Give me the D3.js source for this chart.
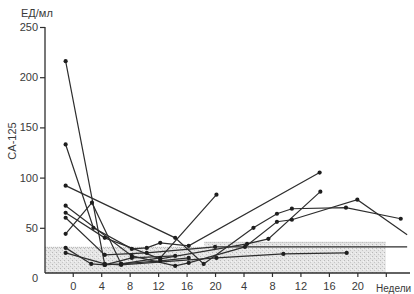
<!DOCTYPE html>
<html>
<head>
<meta charset="utf-8">
<script src="https://cdn.jsdelivr.net/npm/d3@7"></script>
<style>
  body { margin: 0; background: #fff; }
  text { font-family: "Liberation Sans", Arial, sans-serif; fill: #3a3a3a; }
</style>
</head>
<body>
<script>
// weeks: 0..20 first period, then the second period continues at 24 (= week 4) and so on
var xTicks = [0, 4, 8, 12, 16, 20, 24, 28, 32, 36, 40, 44];
var xTickLabels = ["0", "4", "8", "12", "16", "20", "4", "8", "12", "16", "20", ""];
var yTicks = [0, 50, 100, 150, 200, 250];

// normal range band (weeks from, weeks to, upper value)
var bandFrom = [-3.9, 18.5];
var bandTo = [18.5, 44];
var bandTop = [31, 36];

// one array per patient: [week, CA-125]
var patient1 = [[-1, 216], [4.5, 13], [6.8, 14], [12.3, 20], [20.2, 83]];
var patient2 = [[-1, 133], [2.9, 50], [8.3, 29], [10.4, 30], [12.3, 35], [16.3, 32], [34.7, 105]];
var patient3 = [[-1, 92], [14.4, 40], [18.4, 14], [25.4, 50], [28.7, 64], [30.8, 69], [38.4, 70], [46.1, 59]];
var patient4 = [[-1, 72], [8.3, 22], [14.4, 12], [16.3, 15], [24.2, 31], [28.7, 56], [30.8, 58], [40, 78], [47, 43]];
var patient5 = [[-1, 65], [4.5, 40], [12.3, 19], [24.5, 34], [27.5, 39], [34.8, 86]];
var patient6 = [[-1, 60], [4.5, 23], [10.4, 25], [20, 31], [47, 31]];
var patient7 = [[-1, 44], [2.7, 75], [6.8, 14], [12.3, 17], [16.3, 20]];
var patient8 = [[-1, 30], [2.6, 14], [4.5, 13], [8.3, 20], [14.4, 22]];
var patient9 = [[-1, 25], [4.5, 14], [6.8, 13], [20.2, 20], [29.6, 24], [38.5, 25]];

var patients = [patient1, patient2, patient3, patient4, patient5, patient6, patient7, patient8, patient9];

var width = 414;
var height = 294;
var ink = '#2e2e2e';

var svg = d3.select('body')
    .append('svg')
    .attr('width', width)
    .attr('height', height);

var x = d3.scaleLinear().domain([-3.9, 47.4]).range([45, 410]);
var y = d3.scaleLinear().domain([0, 250]).range([278, 27]);
var axisY = y(0) - 5;

// stipple for the band
var defs = svg.append('defs');
var pat = defs.append('pattern')
    .attr('id', 'stipple')
    .attr('width', 4)
    .attr('height', 4)
    .attr('patternUnits', 'userSpaceOnUse');
pat.append('rect').attr('width', 4).attr('height', 4).attr('fill', '#e6e6e6');
pat.append('rect').attr('x', 0).attr('y', 0).attr('width', 1).attr('height', 1).attr('fill', '#b8b8b8');
pat.append('rect').attr('x', 2).attr('y', 2).attr('width', 1).attr('height', 1).attr('fill', '#c6c6c6');
pat.append('rect').attr('x', 3).attr('y', 1).attr('width', 1).attr('height', 1).attr('fill', '#f4f4f4');

svg.selectAll('.band')
    .data(bandTop)
    .enter().append('rect')
    .attr('class', 'band')
    .attr('x', function (d, i) { return x(bandFrom[i]); })
    .attr('width', function (d, i) { return x(bandTo[i]) - x(bandFrom[i]); })
    .attr('y', function (d) { return y(d); })
    .attr('height', function (d) { return axisY - y(d); })
    .attr('fill', 'url(#stipple)');

svg.selectAll('.bandedge')
    .data(bandTop)
    .enter().append('line')
    .attr('x1', function (d, i) { return x(bandFrom[i]); })
    .attr('x2', function (d, i) { return x(bandTo[i]); })
    .attr('y1', function (d) { return y(d) + 0.5; })
    .attr('y2', function (d) { return y(d) + 0.5; })
    .attr('stroke', '#b8b8b8')
    .attr('stroke-width', 1)
    .attr('stroke-dasharray', '1,1');

// y axis
var yAxis = d3.axisLeft(y).tickValues(yTicks).tickSize(5).tickPadding(2);
var gy = svg.append('g')
    .attr('transform', 'translate(' + x(-3.9) + ',0)')
    .call(yAxis);
gy.select('.domain').remove();
gy.selectAll('.tick line').attr('stroke', ink).attr('stroke-width', 1.2);
gy.selectAll('.tick').filter(function (d) { return d === 0; }).select('line').remove();
gy.selectAll('.tick text').attr('font-size', 11).attr('fill', '#3a3a3a');

svg.append('line')
    .attr('x1', x(-3.9)).attr('x2', x(-3.9))
    .attr('y1', y(250)).attr('y2', axisY)
    .attr('stroke', ink)
    .attr('stroke-width', 1.3);

// x axis
var xAxis = d3.axisBottom(x)
    .tickValues(xTicks)
    .tickSize(4)
    .tickPadding(5)
    .tickFormat(function (d, i) { return xTickLabels[i]; });
var gx = svg.append('g')
    .attr('transform', 'translate(0,' + axisY + ')')
    .call(xAxis);
gx.select('.domain').remove();
gx.selectAll('.tick line').attr('stroke', ink).attr('stroke-width', 1.2);
gx.selectAll('.tick text').attr('font-size', 11).attr('fill', '#3a3a3a');

svg.append('line')
    .attr('x1', x(-3.9)).attr('x2', x(47.4))
    .attr('y1', axisY).attr('y2', axisY)
    .attr('stroke', ink)
    .attr('stroke-width', 1.3);

svg.append('text')
    .attr('x', 376)
    .attr('y', 292)
    .attr('font-size', 10)
    .text('Недели');

svg.append('text')
    .attr('x', 21)
    .attr('y', 17)
    .attr('font-size', 11)
    .text('ЕД/мл');

svg.append('text')
    .attr('transform', 'translate(16,141) rotate(-90)')
    .attr('text-anchor', 'middle')
    .attr('font-size', 11)
    .text('CA-125');

// patient lines
var line = d3.line()
    .x(function (d) { return x(d[0]); })
    .y(function (d) { return y(d[1]); });

svg.selectAll('.patient')
    .data(patients)
    .enter().append('path')
    .attr('class', 'patient')
    .attr('d', line)
    .attr('fill', 'none')
    .attr('stroke', ink)
    .attr('stroke-width', 1.2);

patients.forEach(function (p) {
    svg.selectAll(null)
        .data(p.filter(function (d) { return d[0] < 46.5; }))
        .enter().append('circle')
        .attr('cx', function (d) { return x(d[0]); })
        .attr('cy', function (d) { return y(d[1]); })
        .attr('r', 2.1)
        .attr('fill', '#1e1e1e');
});
</script>
</body>
</html>
